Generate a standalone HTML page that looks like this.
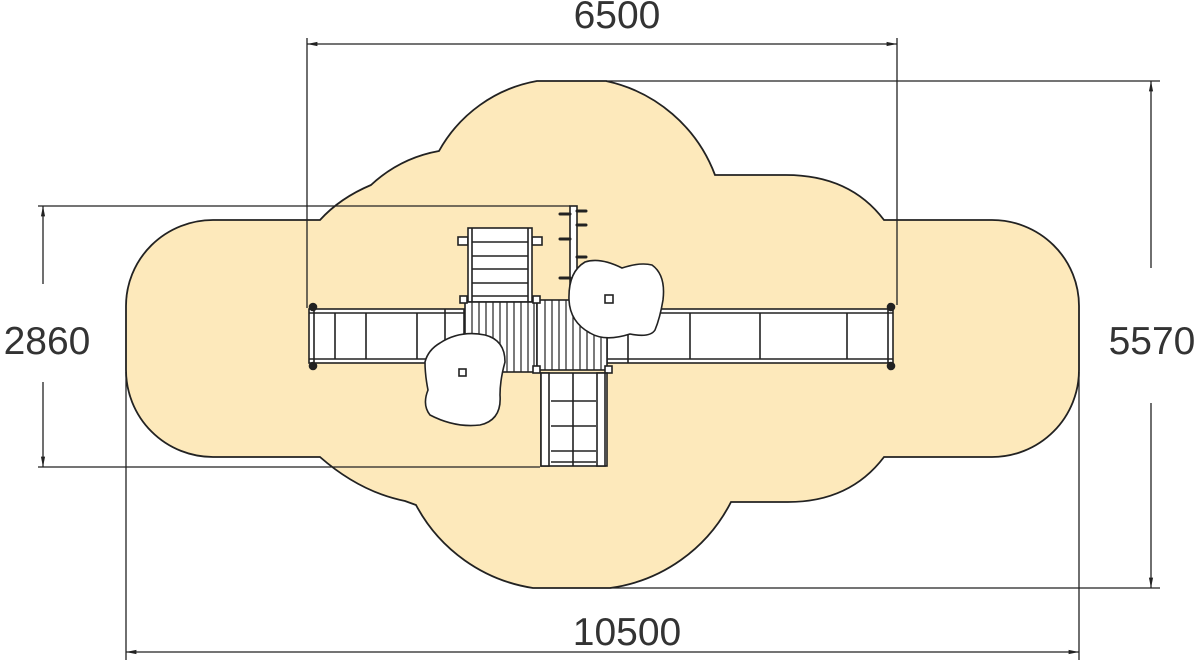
<!DOCTYPE html>
<html><head><meta charset="utf-8"><style>
html,body{margin:0;padding:0;background:#fff;width:1200px;height:660px;overflow:hidden}
svg{display:block}
text{font-family:"Liberation Sans",sans-serif;font-size:39px;fill:#333}
</style></head><body>
<svg width="1200" height="660" viewBox="0 0 1200 660" xmlns="http://www.w3.org/2000/svg">
<defs>
<marker id="a" viewBox="0 0 10 10" refX="10" refY="5" markerWidth="8" markerHeight="8" orient="auto-start-reverse"><path d="M0,3 L10,5 L0,7 z" fill="#222"/></marker>
</defs>
<!-- cloud -->
<path d="M320,220 L213,220 A87,86 0 0 0 126,306 L126,370 A87,87 0 0 0 213,457 L320,457 Q360,492 405,501 L416,505 A160,160 0 0 0 533,588 L610,588 A160,160 0 0 0 731,502 L788,502 Q850,502 884,457 L992,457 A87,87 0 0 0 1079,370 L1079,306 A87,86 0 0 0 992,220 L884,220 Q850,175 786,175 L715,175 A150,150 0 0 0 606,81 L537,81 A140,140 0 0 0 439,151 Q400,158 371,185 Q340,198 320,220 Z" fill="#fde9bb" stroke="#222" stroke-width="1.8"/>
<!-- dimension lines -->
<g stroke="#222" stroke-width="1.3" fill="none">
<line x1="307" y1="44" x2="897" y2="44" marker-start="url(#a)" marker-end="url(#a)"/>
<line x1="307" y1="38" x2="307" y2="308"/>
<line x1="897" y1="38" x2="897" y2="305"/>
<line x1="606" y1="81" x2="1160" y2="81"/>
<line x1="610" y1="588" x2="1160" y2="588"/>
<line x1="1151" y1="81" x2="1151" y2="268" marker-start="url(#a)"/>
<line x1="1151" y1="403" x2="1151" y2="588" marker-end="url(#a)"/>
<line x1="38" y1="206" x2="570" y2="206"/>
<line x1="38" y1="467" x2="540" y2="467"/>
<line x1="43" y1="206" x2="43" y2="284" marker-start="url(#a)"/>
<line x1="43" y1="382" x2="43" y2="467" marker-end="url(#a)"/>
<line x1="126" y1="372" x2="126" y2="660"/>
<line x1="1079" y1="372" x2="1079" y2="660"/>
<line x1="126" y1="652" x2="1079" y2="652" marker-start="url(#a)" marker-end="url(#a)"/>
</g>
<text x="617" y="28" text-anchor="middle">6500</text>
<text x="47" y="354" text-anchor="middle">2860</text>
<text x="1152" y="354" text-anchor="middle">5570</text>
<text x="627" y="645" text-anchor="middle">10500</text>
<!-- structure -->
<g stroke="#222" stroke-width="1.6" fill="#fff">
<!-- left bridge -->
<rect x="309" y="309" width="155" height="54"/>
<line x1="309" y1="313" x2="464" y2="313"/><line x1="309" y1="359" x2="464" y2="359"/>
<line x1="314" y1="309" x2="314" y2="363"/>
<line x1="335" y1="313" x2="335" y2="359"/><line x1="366" y1="313" x2="366" y2="359"/><line x1="417" y1="313" x2="417" y2="359"/><line x1="445" y1="309" x2="445" y2="363"/>
<circle cx="313" cy="307" r="3.5" fill="#222"/><circle cx="313" cy="366" r="3.5" fill="#222"/>
<!-- right bridge -->
<rect x="607" y="309" width="286" height="54"/>
<line x1="607" y1="313" x2="893" y2="313"/><line x1="607" y1="359" x2="893" y2="359"/>
<line x1="888" y1="309" x2="888" y2="363"/>
<line x1="628" y1="309" x2="628" y2="363"/><line x1="690" y1="313" x2="690" y2="359"/><line x1="760" y1="313" x2="760" y2="359"/><line x1="847" y1="313" x2="847" y2="359"/>
<circle cx="891" cy="307" r="3.5" fill="#222"/><circle cx="891" cy="366" r="3.5" fill="#222"/>
<!-- top ladder -->
<rect x="458" y="237" width="10" height="8"/><rect x="532" y="237" width="10" height="8"/>
<rect x="468" y="228" width="64" height="74"/>
<line x1="472" y1="228" x2="472" y2="302"/><line x1="528" y1="228" x2="528" y2="302"/>
<line x1="472" y1="242" x2="528" y2="242"/><line x1="472" y1="256" x2="528" y2="256"/><line x1="472" y1="269" x2="528" y2="269"/><line x1="472" y1="283" x2="528" y2="283"/><line x1="472" y1="296" x2="528" y2="296"/>
<!-- wall -->
<rect x="570" y="206" width="7" height="100"/>
</g>
<g stroke="#222" stroke-width="3" stroke-linecap="round">
<line x1="560" y1="214" x2="570" y2="214"/><line x1="577" y1="211" x2="586" y2="211"/>
<line x1="577" y1="225" x2="586" y2="225"/>
<line x1="560" y1="239" x2="570" y2="239"/><line x1="577" y1="257" x2="586" y2="257"/>
<line x1="560" y1="278" x2="570" y2="278"/>
</g>
<g stroke="#222" stroke-width="1.6" fill="#fff">
<!-- decks -->
<rect x="465" y="302" width="72" height="70"/>
<rect x="537" y="300" width="70" height="70"/>
<g stroke-width="1.2">
<line x1="472" y1="302" x2="472" y2="372"/><line x1="479" y1="302" x2="479" y2="372"/><line x1="486" y1="302" x2="486" y2="372"/><line x1="493" y1="302" x2="493" y2="372"/><line x1="500" y1="302" x2="500" y2="372"/><line x1="507" y1="302" x2="507" y2="372"/><line x1="514" y1="302" x2="514" y2="372"/><line x1="521" y1="302" x2="521" y2="372"/><line x1="528" y1="302" x2="528" y2="372"/><line x1="534" y1="302" x2="534" y2="372"/>
<line x1="545" y1="300" x2="545" y2="370"/><line x1="552" y1="300" x2="552" y2="370"/><line x1="559" y1="300" x2="559" y2="370"/><line x1="566" y1="300" x2="566" y2="370"/><line x1="573" y1="300" x2="573" y2="370"/><line x1="580" y1="300" x2="580" y2="370"/><line x1="587" y1="300" x2="587" y2="370"/><line x1="594" y1="300" x2="594" y2="370"/><line x1="601" y1="300" x2="601" y2="370"/>
</g>
<rect x="460" y="296" width="7" height="7"/><rect x="533" y="296" width="7" height="7"/><rect x="533" y="366" width="7" height="7"/><rect x="605" y="366" width="7" height="7"/>
<!-- bottom ladder -->
<rect x="541" y="373" width="66" height="93"/>
<rect x="541" y="373" width="8" height="93"/><rect x="597" y="373" width="8" height="93"/>
<line x1="551" y1="401" x2="596" y2="401"/><line x1="551" y1="426" x2="596" y2="426"/><line x1="551" y1="451" x2="596" y2="451"/><line x1="551" y1="462" x2="596" y2="462"/>
<line x1="573" y1="373" x2="573" y2="466"/>
<!-- rocks -->
<path d="M440,343 Q460,330 485,335 Q505,340 505,362 Q500,380 500,395 Q502,420 480,425 Q455,428 430,415 Q422,405 428,390 Q425,375 425,362 Q428,350 440,343 Z"/>
<rect x="459" y="369" width="7" height="7"/>
<path d="M585,262 Q600,257 622,268 Q640,262 652,265 Q666,275 663,300 Q660,318 655,330 Q650,338 630,334 Q605,342 590,333 Q570,322 569,300 Q568,272 585,262 Z"/>
<rect x="605" y="295" width="8" height="8"/>
</g>
</svg>
</body></html>
